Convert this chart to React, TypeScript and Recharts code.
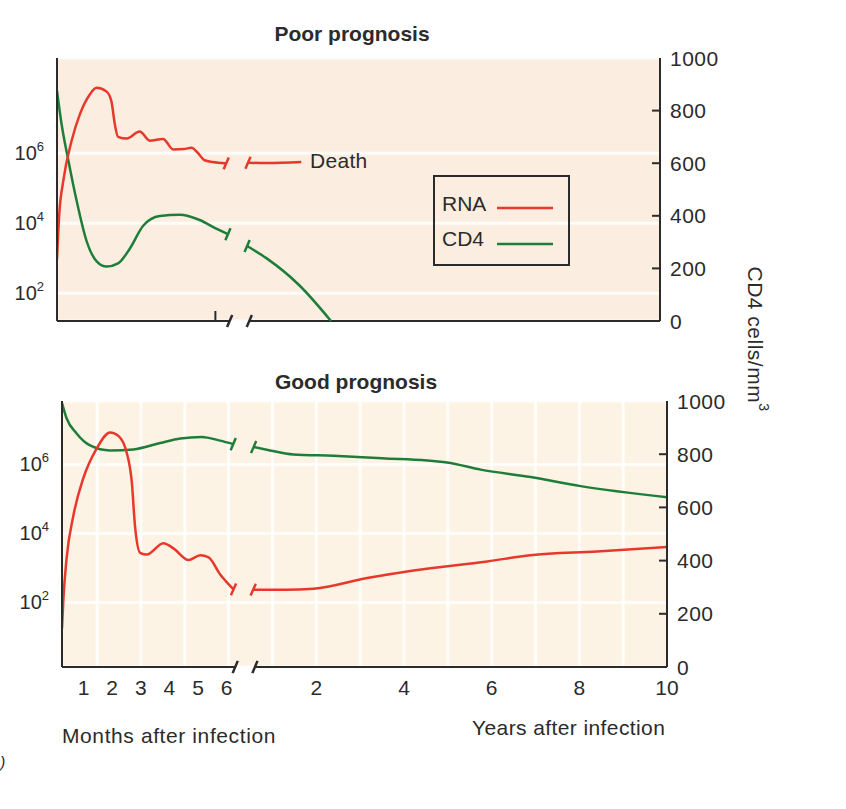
import {
  ComposedChart,
  Line,
  XAxis,
  YAxis,
  CartesianGrid,
  ReferenceLine,
} from 'recharts';

type Pt = [number, number];

const FONT = '"Liberation Sans", Arial, Helvetica, sans-serif';
const INK = '#2b2b2b';
const RED = '#e8372b';
const GREEN = '#1f7d3a';

// x ticks: months after infection, then (after the break) years after infection
const monthTicks = [1, 2, 3, 4, 5, 6];
const yearTicks = [2, 4, 6, 8, 10];
// left axis = log10 RNA copies, right axis = CD4 cells/mm3
const rnaTicks = [2, 4, 6];
const cd4Ticks = [0, 200, 400, 600, 800, 1000];
// faint background stripes in the lower panel, one per year
const gridYears = [-3, -2, -1, 0, 1, 2, 3, 4, 5, 6, 7, 8, 9];

// Poor prognosis  [months | years, log10 RNA] and [months | years, CD4]
const poorRnaMonths: Pt[] = [
  [0.25, 2.98], [0.33, 4.27], [0.47, 5.21], [0.76, 6.35], [1.05, 7.11],
  [1.4, 7.68], [1.64, 7.87], [1.99, 7.76], [2.16, 7.47], [2.28, 6.81],
  [2.39, 6.47], [2.69, 6.42], [3.15, 6.62], [3.5, 6.36], [3.97, 6.41],
  [4.32, 6.11], [4.7, 6.12], [4.96, 6.16], [5.25, 5.95], [5.42, 5.8],
  [5.71, 5.75], [6.18, 5.71],
];
const poorRnaYears: Pt[] = [[0.57, 5.73], [0.99, 5.72], [1.79, 5.75]];
const poorCd4Months: Pt[] = [
  [0.25, 875], [0.41, 749], [0.65, 609], [0.94, 456], [1.29, 303],
  [1.64, 227], [1.99, 207], [2.39, 219], [2.8, 275], [3.27, 362],
  [3.85, 399], [4.55, 404], [5.25, 384], [5.83, 351], [6.24, 330],
];
const poorCd4Years: Pt[] = [[0.55, 285], [0.99, 239], [1.75, 135], [2.47, 0]];

// Good prognosis
const goodRnaMonths: Pt[] = [
  [0.25, 1.25], [0.3, 2.12], [0.41, 3.28], [0.65, 4.53], [0.99, 5.59],
  [1.46, 6.46], [1.93, 6.93], [2.22, 6.83], [2.51, 6.34], [2.69, 5.47],
  [2.8, 4.21], [2.98, 3.44], [3.21, 3.39], [3.79, 3.72], [4.14, 3.57],
  [4.67, 3.23], [5.08, 3.37], [5.37, 3.31], [5.77, 2.82], [6.24, 2.38],
];
const goodRnaYears: Pt[] = [
  [0.56, 2.37], [1.3, 2.37], [1.94, 2.4], [3.16, 2.71], [4.22, 2.93],
  [5.9, 3.19], [6.88, 3.37], [8.4, 3.48], [10, 3.61],
];
const goodCd4Months: Pt[] = [
  [0.25, 992], [0.41, 935], [0.76, 878], [1.23, 833], [1.93, 814],
  [2.74, 818], [3.68, 842], [4.38, 859], [5.13, 865], [5.77, 851],
  [6.23, 838],
];
const goodCd4Years: Pt[] = [
  [0.57, 827], [0.87, 817], [1.48, 799], [2.39, 794], [3.5, 785],
  [4.98, 769], [5.75, 742], [6.89, 714], [8.03, 680], [10, 638],
];

// one numeric time axis: month m sits at m, year y sits past the break
const T_START = 0.25;
const YEAR_ORIGIN = 6.07;
const YEAR_WIDTH = 1.531;
const AXIS_BREAK_MONTH = 6.3;
const AXIS_BREAK_YEAR = 0.6;
const yearPos = (y: number) => YEAR_ORIGIN + y * YEAR_WIDTH;
const T_END = yearPos(10);

const monthRows = (pts: Pt[]) => pts.map(([t, v]) => ({ t, v }));
const yearRows = (pts: Pt[]) => pts.map(([t, v]) => ({ t: yearPos(t), v }));

const xTicks = [...monthTicks, ...yearTicks.map(yearPos)];
const xLabels = [...monthTicks, ...yearTicks].map(String);

const PowTick = (p: any) => (
  <text x={p.x - 13} y={p.y + 7} textAnchor="end" fontSize={20} fill={INK} fontFamily={FONT}>
    10
    <tspan dy={-9} fontSize={13}>{p.payload.value}</tspan>
  </text>
);

const Cd4Tick = (p: any) => {
  const v = p.payload.value;
  return (
    <g>
      {v > 0 && v < 1000 && (
        <line x1={p.x - 8} x2={p.x} y1={p.y} y2={p.y} stroke={INK} strokeWidth={2} />
      )}
      <text x={p.x + 10} y={p.y + 7.5} fontSize={21} fill={INK} fontFamily={FONT} letterSpacing={0.5}>
        {v}
      </text>
    </g>
  );
};

const TimeTick = (p: any) => (
  <text x={p.x} y={p.y + 28} textAnchor="middle" fontSize={21} fill={INK} fontFamily={FONT}>
    {xLabels[p.index]}
  </text>
);

const mark = (key: string, x: number, y: number, axis: 'rna' | 'cd4', color: string) => {
  const dy = axis === 'rna' ? 0.17 : 23;
  return (
    <ReferenceLine
      key={key}
      yAxisId={axis}
      segment={[{ x: x - 0.09, y: y - dy }, { x: x + 0.09, y: y + dy }]}
      stroke={color}
      strokeWidth={2.5}
      ifOverflow="visible"
    />
  );
};

interface PanelProps {
  rnaMonths: Pt[];
  rnaYears: Pt[];
  cd4Months: Pt[];
  cd4Years: Pt[];
  rnaDomain: [number, number];
  margin: { top: number; right: number; bottom: number; left: number };
  xHeight: number;
  showTime: boolean;
  fill: string;
  monthMark?: number;
}

function Panel(props: PanelProps) {
  const { rnaMonths, rnaYears, cd4Months, cd4Years } = props;
  const lastRna = rnaMonths[rnaMonths.length - 1];
  const lastCd4 = cd4Months[cd4Months.length - 1];
  return (
    <ComposedChart width={846} height={345} margin={props.margin}>
      <CartesianGrid
        yAxisId="rna"
        fill={props.fill}
        stroke="#ffffff"
        strokeWidth={3}
        strokeOpacity={0.8}
        vertical={props.showTime}
        verticalValues={gridYears.map(yearPos)}
      />
      <XAxis
        type="number"
        dataKey="t"
        domain={[T_START, T_END]}
        allowDataOverflow
        ticks={xTicks}
        interval={0}
        height={props.xHeight}
        axisLine={false}
        tickLine={false}
        tickSize={0}
        tickMargin={0}
        tick={props.showTime ? TimeTick : false}
      />
      <YAxis
        yAxisId="rna"
        type="number"
        domain={props.rnaDomain}
        allowDataOverflow
        ticks={rnaTicks}
        interval={0}
        width={45}
        axisLine={{ stroke: INK, strokeWidth: 2 }}
        tickLine={false}
        tickSize={0}
        tickMargin={0}
        tick={PowTick}
      />
      <YAxis
        yAxisId="cd4"
        orientation="right"
        type="number"
        domain={[0, 1000]}
        ticks={cd4Ticks}
        interval={0}
        width={60}
        axisLine={{ stroke: INK, strokeWidth: 2 }}
        tickLine={false}
        tickSize={0}
        tickMargin={0}
        tick={Cd4Tick}
      />
      {/* broken time axis */}
      <ReferenceLine
        yAxisId="cd4"
        segment={[{ x: T_START, y: 0 }, { x: AXIS_BREAK_MONTH, y: 0 }]}
        stroke={INK}
        strokeWidth={2}
        ifOverflow="visible"
      />
      <ReferenceLine
        yAxisId="cd4"
        segment={[{ x: yearPos(AXIS_BREAK_YEAR), y: 0 }, { x: T_END, y: 0 }]}
        stroke={INK}
        strokeWidth={2}
        ifOverflow="visible"
      />
      {mark('ax1', AXIS_BREAK_MONTH, 0, 'cd4', INK)}
      {mark('ax2', yearPos(AXIS_BREAK_YEAR), 0, 'cd4', INK)}
      {props.monthMark !== undefined && (
        <ReferenceLine
          yAxisId="cd4"
          segment={[{ x: props.monthMark, y: 0 }, { x: props.monthMark, y: 38 }]}
          stroke={INK}
          strokeWidth={2}
        />
      )}
      <Line yAxisId="cd4" data={monthRows(cd4Months)} dataKey="v" type="monotone" stroke={GREEN} strokeWidth={2.5} dot={false} isAnimationActive={false} />
      <Line yAxisId="cd4" data={yearRows(cd4Years)} dataKey="v" type="monotone" stroke={GREEN} strokeWidth={2.5} dot={false} isAnimationActive={false} />
      <Line yAxisId="rna" data={monthRows(rnaMonths)} dataKey="v" type="monotone" stroke={RED} strokeWidth={2.5} dot={false} isAnimationActive={false} />
      <Line yAxisId="rna" data={yearRows(rnaYears)} dataKey="v" type="monotone" stroke={RED} strokeWidth={2.5} dot={false} isAnimationActive={false} />
      {mark('c1', lastCd4[0], lastCd4[1], 'cd4', GREEN)}
      {mark('c2', yearPos(cd4Years[0][0]), cd4Years[0][1], 'cd4', GREEN)}
      {mark('r1', lastRna[0], lastRna[1], 'rna', RED)}
      {mark('r2', yearPos(rnaYears[0][0]), rnaYears[0][1], 'rna', RED)}
    </ComposedChart>
  );
}

const txt = { fontFamily: FONT, fill: INK } as const;

export default function App() {
  return (
    <div style={{ position: 'absolute', left: 0, top: 0, width: 846, height: 809, background: '#fff' }}>
      <div style={{ position: 'absolute', left: 0, top: 0 }}>
        <Panel
          rnaMonths={poorRnaMonths}
          rnaYears={poorRnaYears}
          cd4Months={poorCd4Months}
          cd4Years={poorCd4Years}
          rnaDomain={[1.21, 8.72]}
          margin={{ top: 58, right: 126, bottom: 4, left: 12 }}
          xHeight={20}
          showTime={false}
          fill="#fbeee1"
          monthMark={5.8}
        />
      </div>
      <div style={{ position: 'absolute', left: 0, top: 360 }}>
        <Panel
          rnaMonths={goodRnaMonths}
          rnaYears={goodRnaYears}
          cd4Months={goodCd4Months}
          cd4Years={goodCd4Years}
          rnaDomain={[0.13, 7.84]}
          margin={{ top: 41, right: 119, bottom: 4, left: 17 }}
          xHeight={34}
          showTime={true}
          fill="#fdf3e5"
        />
      </div>
      <svg width={846} height={809} style={{ position: 'absolute', left: 0, top: 0, pointerEvents: 'none' }}>
        <text x={352} y={40.5} textAnchor="middle" fontSize={21} fontWeight="bold" {...txt}>
          Poor prognosis
        </text>
        <text x={356} y={388.5} textAnchor="middle" fontSize={21} fontWeight="bold" {...txt}>
          Good prognosis
        </text>
        <text x={310} y={167.5} fontSize={21} letterSpacing={0.3} {...txt}>
          Death
        </text>
        {/* legend */}
        <rect x={434} y={176} width={135} height={89} fill="none" stroke={INK} strokeWidth={2} />
        <text x={442} y={210.5} fontSize={21} {...txt}>RNA</text>
        <line x1={497} x2={553} y1={208} y2={208} stroke={RED} strokeWidth={2.5} />
        <text x={442} y={245.5} fontSize={21} {...txt}>CD4</text>
        <line x1={497} x2={553} y1={244} y2={244} stroke={GREEN} strokeWidth={2.5} />
        <text
          x={755}
          y={339}
          transform="rotate(90 755 339)"
          textAnchor="middle"
          dominantBaseline="central"
          fontSize={21}
          letterSpacing={0.5}
          {...txt}
        >
          CD4 cells/mm
          <tspan dy={-9} fontSize={14}>3</tspan>
        </text>
        <text x={62} y={742.5} fontSize={21} letterSpacing={0.6} {...txt}>
          Months after infection
        </text>
        <text x={472} y={734.5} fontSize={21} letterSpacing={0.4} {...txt}>
          Years after infection
        </text>
        <text x={0} y={768} fontSize={16} fontStyle="italic" {...txt}>
          )
        </text>
      </svg>
    </div>
  );
}
